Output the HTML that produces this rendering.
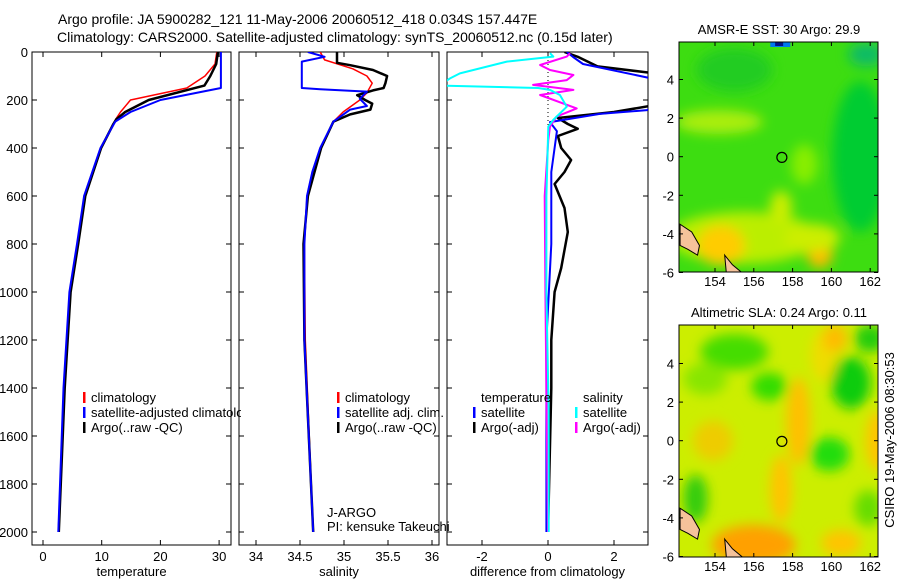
<!DOCTYPE html>
<html><head><meta charset="utf-8"><style>
body{margin:0;background:#fff}
svg{display:block;font-family:"Liberation Sans",sans-serif;font-size:13px}
</style></head><body>
<svg id="c" width="900" height="580" viewBox="0 0 900 580">
<defs>
<filter id="bl" x="-50%" y="-50%" width="200%" height="200%"><feGaussianBlur stdDeviation="6"/></filter>
<clipPath id="cp1"><rect x="32" y="52" width="199" height="493"/></clipPath>
<clipPath id="cp2"><rect x="239" y="52" width="200" height="493"/></clipPath>
<clipPath id="cp3"><rect x="447" y="52" width="201" height="493"/></clipPath>
<clipPath id="cleg"><rect x="0" y="0" width="241" height="580"/></clipPath>
<clipPath id="cm1"><rect x="679" y="42" width="199" height="230"/></clipPath>
<clipPath id="cm2"><rect x="679" y="325" width="199" height="232"/></clipPath>
</defs>
<text x="58" y="24" font-size="14">Argo profile: JA 5900282_121 11-May-2006 20060512_418 0.034S 157.447E</text>
<text x="57" y="42" font-size="14">Climatology: CARS2000. Satellite-adjusted climatology: synTS_20060512.nc (0.15d later)</text>
<g id="maps"></g>
<g id="plots"></g>
<text transform="translate(894,440) rotate(-90)" text-anchor="middle">CSIRO 19-May-2006 08:30:53</text>
</svg>
<script>
// ---- data ----
const depthTicks=[0,200,400,600,800,1000,1200,1400,1600,1800,2000];
const tempTicks=[0,10,20,30];
const salTicks=[34,34.5,35,35.5,36];
const diffTicks=[-2,0,2];
const climTD=[0,50,100,150,200,250,280,400,600,800,1000,1400,2000];
const climT=[29.6,29.3,27.6,24.5,14.9,13.2,12.4,9.8,7.0,5.9,4.6,3.6,2.7];
const satTD=[0,150,200,250,290,400,600,800,1000,1400,2000];
const satT=[30.3,30.3,20,14.9,12.3,9.8,7.0,5.8,4.5,3.5,2.6];
const argoTD=[0,50,100,140,200,250,280,300,400,600,800,1000,1400,2000];
const argoT=[29.8,29.5,28.5,27.5,18,14,12.5,12,9.9,7.2,6.0,4.7,3.7,2.7];
const climSD=[0,33,70,100,130,170,200,250,290,400,500,600,800,1200,2000];
const climS=[34.73,34.78,35.1,35.26,35.32,35.26,35.18,34.99,34.88,34.73,34.64,34.58,34.55,34.56,34.65];
const satSD=[0,20,40,150,155,165,195,225,240,290,400,500,600,800,1200,2000];
const satS=[34.59,34.78,34.52,34.52,34.73,35.26,35.18,35.26,35.07,34.88,34.73,34.64,34.58,34.55,34.55,34.65];
const argoSD=[0,45,55,75,100,130,150,160,180,200,215,240,260,290,400,600,800,1200,2000];
const argoS=[34.92,34.92,35.07,35.33,35.49,35.47,35.45,35.33,35.15,35.24,35.32,35.3,35.07,34.88,34.74,34.59,34.54,34.55,34.65];
const dTsD=[0,21,50,100,115,220,242,258,292,330,500,800,1200,2000];
const dTs=[0.57,0.76,1.06,2.79,3.3,3.3,3.0,1.57,0.06,0.27,0.1,0.1,-0.05,-0.05];
const dTaD=[0,20,60,90,220,250,275,300,320,350,400,450,500,550,650,750,900,1000,1200,1400,2000];
const dTa=[0.5,0.9,1.5,3.3,3.3,2,0.3,0.6,0.9,0.3,0.4,0.7,0.5,0.2,0.5,0.6,0.4,0.2,0.1,0.1,0];
const dSsD=[5,19,40,89,110,140,150,158,179,228,283,311,600,1000,1500,2000];
const dSs=[0.06,0.16,-1.25,-2.67,-2.97,-3.3,-0.3,0.06,0.36,0.57,0.16,0.01,-0.05,-0.05,0.02,0.02];
const dSaD=[5,19,54,75,96,117,137,158,179,235,269,311,367,600,1000,1400,2000];
const dSa=[0.67,0.57,-0.24,0.06,0.77,0.57,-0.45,0.77,-0.24,0.87,0.26,0.06,0.01,-0.1,-0.08,-0.05,0];
const lonTicks=[154,156,158,160,162];
const latTicks=[-6,-4,-2,0,2,4];
const floatLon=157.447, floatLat=-0.034;

const NS='http://www.w3.org/2000/svg';
function mk(tag,at,parent){const e=document.createElementNS(NS,tag);for(const k in at)e.setAttribute(k,at[k]);parent.appendChild(e);return e;}
const plots=document.getElementById('plots');
const yD=d=>52+d*0.24;
const panels=[
 {x0:32,x1:231,xs:v=>43+v*5.87,ticks:tempTicks,title:'temperature',clip:'cp1',name:'temperature-panel'},
 {x0:239,x1:439,xs:v=>256+(v-34)*88,ticks:salTicks,title:'salinity',clip:'cp2',name:'salinity-panel'},
 {x0:447,x1:648,xs:v=>548+v*33,ticks:diffTicks,title:'difference from climatology',clip:'cp3',name:'difference-panel'}];
panels.forEach((p,i)=>{
 const g=mk('g',{},plots);
 
 
 const r=mk('rect',{x:p.x0,y:52,width:p.x1-p.x0,height:493,fill:'none',stroke:'#000','stroke-width':1},g);
 
 
 depthTicks.forEach(d=>{const y=yD(d);
  mk('line',{x1:p.x0,x2:p.x0+5,y1:y,y2:y,stroke:'#000'},g);
  mk('line',{x1:p.x1,x2:p.x1-5,y1:y,y2:y,stroke:'#000'},g);
  if(i==0){const t=mk('text',{x:28,y:y+5,'text-anchor':'end'},g);t.textContent=d;
   
   }
 });
 p.ticks.forEach(v=>{const x=p.xs(v);
  mk('line',{x1:x,x2:x,y1:545,y2:540,stroke:'#000'},g);
  mk('line',{x1:x,x2:x,y1:52,y2:57,stroke:'#000'},g);
  const t=mk('text',{x:x,y:561,'text-anchor':'middle'},g);t.textContent=v;
  
  
 });
 const t=mk('text',{x:(p.x0+p.x1)/2,y:576,'text-anchor':'middle'},g);t.textContent=p.title;
 
 
});
function line(pi,ds,vs,col,w,name,dash){
 const p=panels[pi];
 const pts=ds.map((d,k)=>p.xs(vs[k]).toFixed(1)+','+yD(d).toFixed(1)).join(' ');
 const e=mk('polyline',{points:pts,fill:'none',stroke:col,'stroke-width':w,'clip-path':'url(#'+p.clip+')','stroke-linejoin':'round'},plots);
 if(dash)e.setAttribute('stroke-dasharray',dash);
 
 
}
const z=mk('line',{x1:548,x2:548,y1:52,y2:yD(320),stroke:'#000','stroke-dasharray':'1,3'},plots);


line(0,climTD,climT,'#f00',1.5,'temp-climatology-line');
line(0,argoTD,argoT,'#000',2.5,'temp-argo-line');
line(0,satTD,satT,'#00f',2,'temp-satellite-line');
line(1,climSD,climS,'#f00',1.5,'sal-climatology-line');
line(1,argoSD,argoS,'#000',2.5,'sal-argo-line');
line(1,satSD,satS,'#00f',2,'sal-satellite-line');
line(2,dTaD,dTa,'#000',2.5,'diff-temp-argo-line');
line(2,dTsD,dTs,'#00f',2,'diff-temp-satellite-line');
line(2,dSaD,dSa,'#f0f',2,'diff-sal-argo-line');
line(2,dSsD,dSs,'#0ff',2,'diff-sal-satellite-line');
function leg(x,y,col,txt,name,clip){
 if(col){const b=mk('rect',{x:x-8,y:y-10,width:2.5,height:11,fill:col},plots);
  
  }
 const t=mk('text',{x:x,y:y},plots);t.textContent=txt;
 if(clip)t.setAttribute('clip-path','url(#'+clip+')');
 
 
}
leg(91,402,'#f00','climatology','legend-climatology');
leg(91,417,'#00f','satellite-adjusted climatology','legend-satellite-adjusted','cleg');
leg(91,432,'#000','Argo(..raw -QC)','legend-argo');
leg(345,402,'#f00','climatology','legend-sal-climatology');
leg(345,417,'#00f','satellite adj. clim.','legend-sal-satellite');
leg(345,432,'#000','Argo(..raw -QC)','legend-sal-argo');
leg(327,517,null,'J-ARGO','agency-label');
leg(327,531,null,'PI: kensuke Takeuchi','pi-label');
leg(481,402,null,'temperature','legend-temperature-header');
leg(481,417,'#00f','satellite','legend-temp-satellite');
leg(481,432,'#000','Argo(-adj)','legend-temp-argo');
leg(583,402,null,'salinity','legend-salinity-header');
leg(583,417,'#0ff','satellite','legend-sal-satellite-diff');
leg(583,432,'#f0f','Argo(-adj)','legend-sal-argo-diff');

// maps
const maps=document.getElementById('maps');
const mapDefs=[
 {y0:42,y1:272,lat0y:156.7,title:'AMSR-E SST: 30 Argo: 29.9',clip:'cm1',name:'sst-map',base:'#3ddd11',
  blobs:[[155.5,-4.2,75,26,'#bbee00'],[154.3,-4.6,24,20,'#ffcc00'],[159.4,-5,13,15,'#ffbb00'],[159,-4.2,28,14,'#ccee00'],[157.4,-2.6,11,16,'#ccee00'],[154.2,1.8,44,12,'#aaee11'],[161.5,0,28,75,'#00cc33'],[155,4.5,38,22,'#22cc22'],[158.6,-0.4,13,20,'#88ee00'],[161.8,5.3,18,12,'#11bb66']]},
 {y0:325,y1:557,lat0y:440.7,title:'Altimetric SLA: 0.24 Argo: 0.11',clip:'cm2',name:'sla-map',base:'#ccee00',
  blobs:[[155,4.6,34,18,'#44dd00'],[156.8,2.8,18,14,'#33dd00'],[153.5,3.2,22,16,'#88e600'],[161,3,20,26,'#11cc11'],[162,5.3,16,14,'#22cc11'],[159.9,-0.7,20,17,'#22dd11'],[158.3,1,12,44,'#ffc000'],[157.4,-2.5,11,34,'#ffc400'],[159.6,4.4,13,26,'#eedd00'],[160.2,5.3,12,14,'#ffbb00'],[156,-5.4,42,20,'#ffa000'],[160.5,-5.3,20,13,'#ffc400'],[162.4,0,12,30,'#ffc400'],[153,-3,12,24,'#33cc11'],[161.9,-3.5,14,18,'#66dd00'],[153.9,0,20,20,'#eecc00']]}];
mapDefs.forEach(m=>{
 const g=mk('g',{},maps);
 
 
 const yl=lat=>m.lat0y-lat*19.3;
 const xl=lon=>715+(lon-154)*19.4;
 const cg=mk('g',{'clip-path':'url(#'+m.clip+')'},g);
 mk('rect',{x:679,y:m.y0,width:199,height:m.y1-m.y0,fill:m.base},cg);
 const bg=mk('g',{filter:'url(#bl)'},cg);
 m.blobs.forEach(b=>mk('ellipse',{cx:xl(b[0]),cy:yl(b[1]),rx:b[2],ry:b[3],fill:b[4]},bg));
 if(m.name==='sst-map'){mk('rect',{x:xl(156.85),y:m.y0,width:20,height:5,fill:'#0077ee'},cg);mk('rect',{x:xl(157.1),y:m.y0,width:8,height:4,fill:'#001188'},cg);}
 const l1=mk('path',{d:`M${xl(152.2)},${yl(-3.5)} L${xl(152.8)},${yl(-3.9)} L${xl(153.2)},${yl(-4.6)} L${xl(153.1)},${yl(-5.1)} L${xl(152.6)},${yl(-4.8)} L${xl(152.2)},${yl(-4.6)} Z`,fill:'#f5c29a',stroke:'#000','stroke-width':1},cg);
 
 
 const l2=mk('path',{d:`M${xl(154.5)},${yl(-5.1)} L${xl(154.9)},${yl(-5.6)} L${xl(155.5)},${yl(-6.1)} L${xl(154.6)},${yl(-6.2)} Z`,fill:'#f5c29a',stroke:'#000','stroke-width':1},cg);
 
 
 mk('rect',{x:679,y:m.y0,width:199,height:m.y1-m.y0,fill:'none',stroke:'#000'},g);
 const c=mk('circle',{cx:xl(floatLon),cy:yl(floatLat),r:5,fill:'none',stroke:'#000','stroke-width':1.2},g);
 
 
 lonTicks.forEach(v=>{const x=xl(v);
  mk('line',{x1:x,x2:x,y1:m.y1,y2:m.y1-4,stroke:'#000'},g);
  mk('line',{x1:x,x2:x,y1:m.y0,y2:m.y0+4,stroke:'#000'},g);
  const t=mk('text',{x:x,y:m.y1+14,'text-anchor':'middle'},g);t.textContent=v;
  
  });
 latTicks.forEach(v=>{const y=yl(v);
  mk('line',{x1:679,x2:683,y1:y,y2:y,stroke:'#000'},g);
  mk('line',{x1:878,x2:874,y1:y,y2:y,stroke:'#000'},g);
  const t=mk('text',{x:674,y:y+5,'text-anchor':'end'},g);t.textContent=v;
  
  });
 const t=mk('text',{x:779,y:m.y0-8,'text-anchor':'middle'},g);t.textContent=m.title;
 
 
});
</script>
</body></html>
